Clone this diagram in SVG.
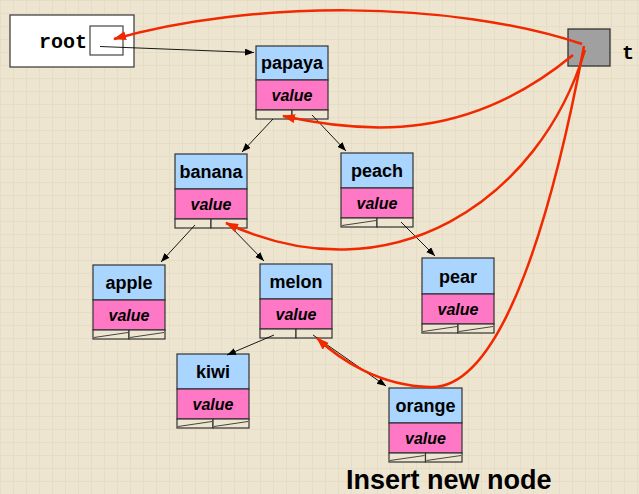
<svg xmlns="http://www.w3.org/2000/svg" width="639" height="494" viewBox="0 0 639 494">
<defs>
<pattern id="grid" width="13" height="13" patternUnits="userSpaceOnUse">
<rect width="13" height="13" fill="#EDE5D0"/>
<path d="M0,0.5 H13 M0.5,0 V13" stroke="#E5DDC6" stroke-width="1" fill="none"/>
</pattern>
<marker id="ab" markerUnits="userSpaceOnUse" markerWidth="10" markerHeight="8" refX="9" refY="3.5" orient="auto">
<path d="M0,0 L9,3.5 L0,7 z" fill="#000"/>
</marker>
<marker id="ar" markerUnits="userSpaceOnUse" markerWidth="14" markerHeight="10" refX="12" refY="4.5" orient="auto">
<path d="M0,0 L13,4.5 L0,9 z" fill="#F22800"/>
</marker>
</defs>
<style>
.bl{fill:#A9D5FF;stroke:#333;stroke-width:1.2}
.pk{fill:#FF78C6;stroke:#333;stroke-width:1.2}
.pt{fill:#EDE5D0;stroke:#333;stroke-width:1.2}
.nl{stroke:#333;stroke-width:0.9}
.nm{font-family:"Liberation Sans",Arial,sans-serif;font-weight:bold;font-size:18px;text-anchor:middle;fill:#000}
.vl{font-family:"Liberation Sans",Arial,sans-serif;font-weight:bold;font-style:italic;font-size:16px;text-anchor:middle;fill:#000}
.mono{font-family:"Liberation Mono","Courier New",monospace;font-weight:bold;font-size:20px;fill:#000}
.bk{stroke:#000;stroke-width:0.9;fill:none;marker-end:url(#ab)}
.rd{stroke:#F22800;stroke-width:2.5;fill:none;marker-end:url(#ar)}
</style>
<rect width="639" height="494" fill="url(#grid)"/>

<g id="root">
<rect x="10" y="15" width="124" height="52" fill="#fff" stroke="#444" stroke-width="1.3"/>
<rect x="90" y="26" width="33" height="29" fill="#fff" stroke="#444" stroke-width="1.2"/>
<text class="mono" x="39" y="48">root</text>
</g>

<g id="t">
<rect x="568" y="29" width="42" height="37" fill="#A0A0A0" stroke="#333" stroke-width="1.3"/>
<text class="mono" x="622" y="59">t</text>
</g>

<g id="papaya" transform="translate(256,46)">
<rect class="bl" x="0" y="0" width="72" height="34"/>
<rect class="pk" x="0" y="34" width="72" height="30"/>
<rect class="pt" x="0" y="64" width="36" height="9"/>
<rect class="pt" x="36" y="64" width="36" height="9"/>
<text class="nm" x="36" y="23">papaya</text>
<text class="vl" x="36" y="55">value</text>
</g>

<g id="banana" transform="translate(175,154)">
<rect class="bl" x="0" y="0" width="72" height="35"/>
<rect class="pk" x="0" y="35" width="72" height="30"/>
<rect class="pt" x="0" y="65" width="36" height="9"/>
<rect class="pt" x="36" y="65" width="36" height="9"/>
<text class="nm" x="36" y="24">banana</text>
<text class="vl" x="36" y="56">value</text>
</g>

<g id="peach" transform="translate(341,153)">
<rect class="bl" x="0" y="0" width="72" height="35"/>
<rect class="pk" x="0" y="35" width="72" height="30"/>
<rect class="pt" x="0" y="65" width="36" height="9"/>
<rect class="pt" x="36" y="65" width="36" height="9"/>
<line class="nl" x1="1" y1="72.5" x2="35" y2="67.5"/>
<text class="nm" x="36" y="24">peach</text>
<text class="vl" x="36" y="56">value</text>
</g>

<g id="apple" transform="translate(93,265)">
<rect class="bl" x="0" y="0" width="72" height="35"/>
<rect class="pk" x="0" y="35" width="72" height="30"/>
<rect class="pt" x="0" y="65" width="36" height="9"/>
<rect class="pt" x="36" y="65" width="36" height="9"/>
<line class="nl" x1="1" y1="72.5" x2="35" y2="67.5"/>
<line class="nl" x1="37" y1="72.5" x2="71" y2="67.5"/>
<text class="nm" x="36" y="24">apple</text>
<text class="vl" x="36" y="56">value</text>
</g>

<g id="melon" transform="translate(260,264)">
<rect class="bl" x="0" y="0" width="72" height="35"/>
<rect class="pk" x="0" y="35" width="72" height="30"/>
<rect class="pt" x="0" y="65" width="36" height="9"/>
<rect class="pt" x="36" y="65" width="36" height="9"/>
<text class="nm" x="36" y="24">melon</text>
<text class="vl" x="36" y="56">value</text>
</g>

<g id="pear" transform="translate(422,258)">
<rect class="bl" x="0" y="0" width="72" height="36"/>
<rect class="pk" x="0" y="36" width="72" height="30"/>
<rect class="pt" x="0" y="66" width="36" height="9"/>
<rect class="pt" x="36" y="66" width="36" height="9"/>
<line class="nl" x1="1" y1="73.5" x2="35" y2="68.5"/>
<line class="nl" x1="37" y1="73.5" x2="71" y2="68.5"/>
<text class="nm" x="36" y="25">pear</text>
<text class="vl" x="36" y="57">value</text>
</g>

<g id="kiwi" transform="translate(177,354)">
<rect class="bl" x="0" y="0" width="72" height="35"/>
<rect class="pk" x="0" y="35" width="72" height="30"/>
<rect class="pt" x="0" y="65" width="36" height="9"/>
<rect class="pt" x="36" y="65" width="36" height="9"/>
<line class="nl" x1="1" y1="72.5" x2="35" y2="67.5"/>
<line class="nl" x1="37" y1="72.5" x2="71" y2="67.5"/>
<text class="nm" x="36" y="24">kiwi</text>
<text class="vl" x="36" y="56">value</text>
</g>

<g id="orange" transform="translate(389,388)">
<rect class="bl" x="0" y="0" width="73" height="35"/>
<rect class="pk" x="0" y="35" width="73" height="30"/>
<rect class="pt" x="0" y="65" width="36.5" height="9"/>
<rect class="pt" x="36.5" y="65" width="36.5" height="9"/>
<line class="nl" x1="1" y1="72.5" x2="35.5" y2="67.5"/>
<line class="nl" x1="37.5" y1="72.5" x2="72" y2="67.5"/>
<text class="nm" x="36.5" y="24">orange</text>
<text class="vl" x="36.5" y="56">value</text>
</g>

<g id="label">
<text x="346" y="489" style="font-family:'Liberation Sans',Arial,sans-serif;font-weight:bold;font-size:27px;fill:#000">Insert new node</text>
</g>

<g id="connectors">
<line class="bk" x1="100" y1="46.5" x2="254" y2="52.5"/>
<line class="bk" x1="273" y1="119" x2="242" y2="152"/>
<line class="bk" x1="312" y1="115" x2="346" y2="151"/>
<line class="bk" x1="195" y1="225" x2="161" y2="262"/>
<line class="bk" x1="229" y1="225" x2="264" y2="261"/>
<line class="bk" x1="401" y1="222" x2="435" y2="256"/>
<line class="bk" x1="274" y1="335" x2="227" y2="355"/>
<line class="bk" x1="313" y1="335" x2="386" y2="386"/>
<path class="rd" d="M582,44 C450,0 250,0 114,39"/>
<path class="rd" d="M573,55 C470,140 370,135 283,116"/>
<path class="rd" d="M585,50 C540,200 390,300 226,223"/>
<path class="rd" d="M584,46 C555,200 505,390 430,387 C380,386 340,360 317,338"/>
</g>
</svg>
